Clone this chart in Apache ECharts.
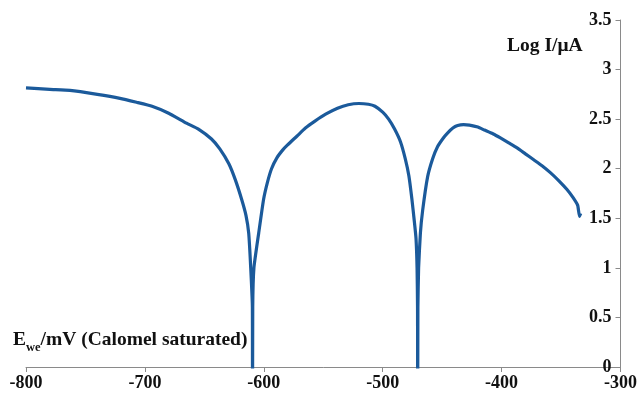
<!DOCTYPE html>
<html>
<head>
<meta charset="utf-8">
<script src="https://cdn.jsdelivr.net/npm/echarts@6/dist/echarts.min.js"></script>
<style>
    html, body { margin: 0; padding: 0; background: #fff; }
    #myChart { width: 640px; height: 395px; }
</style>
</head>
<body>
<div id="myChart"></div>
<script>
    // 电位 (mV) 与 log 电流
    let potential = [-800, -780, -763, -740, -721, -707, -694, -680, -665, -655, -644, -637, -629.4, -624, -618.6,
        -615, -612.7, -611, -609.6, -609.5, -609.3, -608.3, -604.3, -600.2, -597, -593.5, -589, -584, -580, -572,
        -565, -557, -548, -538, -529, -520, -512, -506.5, -500, -495, -490, -485, -481, -478, -475.5, -473.5,
        -472, -471.1, -470.7, -470.6, -470.4, -469.8, -468.3, -466.4, -462.2, -458, -454, -449, -445.5, -441,
        -437, -432, -427, -420, -414.5, -407, -401, -394, -387, -380, -373, -366, -359, -352, -345, -340,
        -336, -334.5, -333.5];
    let logCurrent = [2.815, 2.80, 2.79, 2.75, 2.71, 2.67, 2.63, 2.56, 2.46, 2.40, 2.30, 2.20, 2.05, 1.89, 1.69,
        1.53, 1.35, 1.0, 0.6, -1, 0.6, 1.0, 1.35, 1.69, 1.86, 2.00, 2.11, 2.19, 2.24, 2.33,
        2.41, 2.48, 2.55, 2.61, 2.645, 2.658, 2.65, 2.63, 2.57, 2.50, 2.40, 2.27, 2.10, 1.93, 1.70, 1.48,
        1.30, 1.0, 0.6, -1, 0.6, 1.0, 1.35, 1.58, 1.92, 2.10, 2.22, 2.31, 2.36, 2.41,
        2.435, 2.445, 2.44, 2.42, 2.39, 2.35, 2.31, 2.26, 2.21, 2.15, 2.09, 2.03, 1.96, 1.88, 1.79, 1.71,
        1.63, 1.52, 1.55];
    let xTicks = [-800, -300, 100];
    let yTicks = [0, 3.5, 0.5];

    let serif = '"Liberation Serif", "Times New Roman", serif';
    let axisColor = '#8a8a8a';

    let points = potential.map((x, i) => [x, logCurrent[i]]);

    let option = {
        animation: false,
        backgroundColor: '#fff',
        grid: {
            left: 26,
            right: 17,
            top: 20,
            bottom: 28
        },
        xAxis: {
            type: 'value',
            min: xTicks[0],
            max: xTicks[1],
            interval: xTicks[2],
            axisLine: { onZero: false, lineStyle: { color: axisColor, width: 1 } },
            axisTick: { show: true, length: 5, lineStyle: { color: axisColor } },
            splitLine: { show: false },
            axisLabel: {
                color: '#111',
                fontFamily: serif,
                fontWeight: 'bold',
                fontSize: 18,
                margin: 7
            }
        },
        yAxis: {
            type: 'value',
            position: 'right',
            min: yTicks[0],
            max: yTicks[1],
            interval: yTicks[2],
            axisLine: { show: true, lineStyle: { color: axisColor, width: 1 } },
            axisTick: { show: true, inside: true, length: 5, lineStyle: { color: axisColor } },
            splitLine: { show: false },
            axisLabel: {
                inside: true,
                color: '#111',
                fontFamily: serif,
                fontWeight: 'bold',
                fontSize: 18,
                margin: 9
            }
        },
        graphic: [{
            type: 'text',
            left: 507,
            top: 36,
            style: {
                text: 'Log I/μA',
                fill: '#111',
                font: 'bold 19.5px ' + serif
            }
        }, {
            type: 'text',
            left: 13,
            top: 330,
            style: {
                text: '{a|E}{b|we}{a|/mV (Calomel saturated)}',
                rich: {
                    a: { fill: '#111', fontFamily: serif, fontWeight: 'bold', fontSize: 19.5, lineHeight: 24, verticalAlign: 'bottom' },
                    b: { fill: '#111', fontFamily: serif, fontWeight: 'bold', fontSize: 12.5, lineHeight: 24, verticalAlign: 'bottom', padding: [0, 0, -4, 0] }
                }
            }
        }],
        series: [{
            type: 'line',
            data: points,
            showSymbol: false,
            smooth: 0.15,
            clip: true,
            lineStyle: { color: '#1b5a9b', width: 3.2, join: 'round' }
        }]
    };

    let myChart = echarts.init(document.getElementById('myChart'));
    myChart.setOption(option);
</script>
</body>
</html>
